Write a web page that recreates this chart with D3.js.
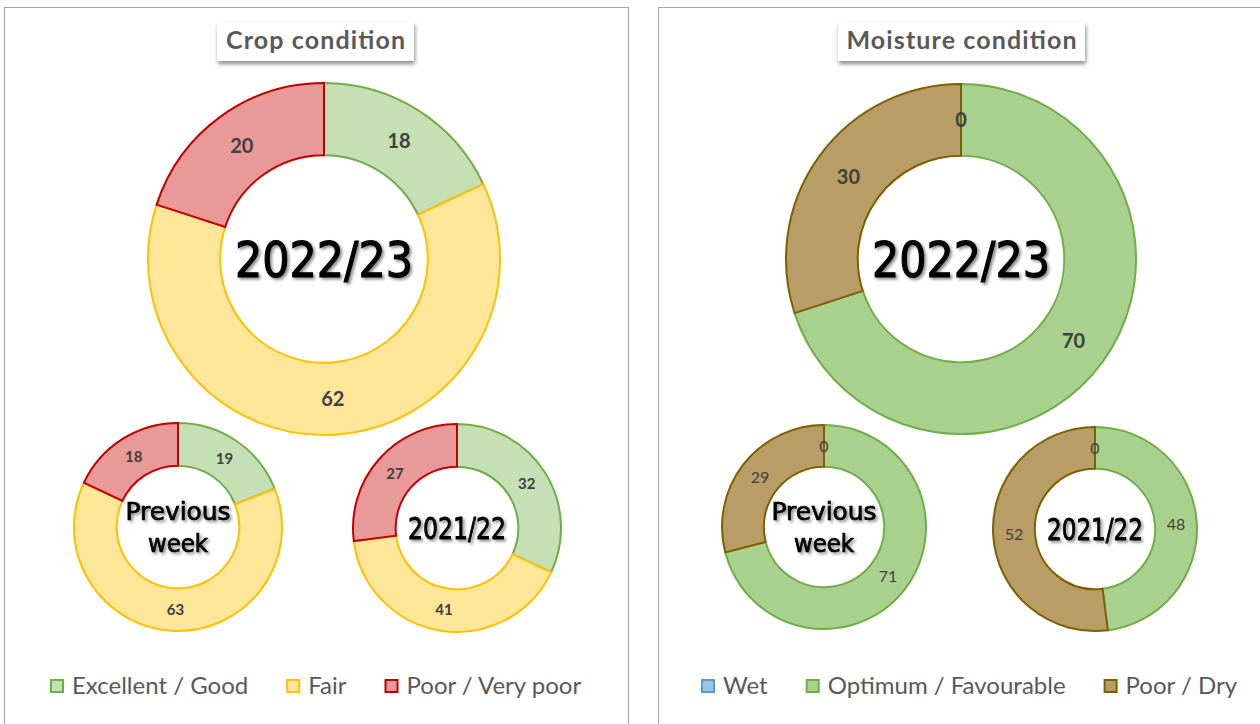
<!DOCTYPE html>
<html>
<head>
<meta charset="utf-8">
<script src="https://cdn.jsdelivr.net/npm/d3@7"></script>
<style>
  html, body { margin: 0; padding: 0; background: #ffffff; }
  svg { display: block; }
</style>
</head>
<body>
<svg id="chart" width="1260" height="724"></svg>
<script>
// ---------------- data ----------------
const cropTitle = "Crop condition";
const moistTitle = "Moisture condition";
const cropCategories = ["Excellent / Good", "Fair", "Poor / Very poor"];
const cropCurrent = [18, 62, 20];
const cropPrevWeek = [19, 63, 18];
const cropLastYear = [32, 41, 27];
const moistCategories = ["Wet", "Optimum / Favourable", "Poor / Dry"];
const moistCurrent = [0, 70, 30];
const moistPrevWeek = [0, 71, 29];
const moistLastYear = [0, 48, 52];
const seasonLabels = ["2022/23", ["Previous", "week"], "2021/22"];

// ---------------- styles ----------------
const cropFill = ["#C5E0B4", "#FFE699", "#EA9999"];
const cropStroke = ["#70AD47", "#FFC000", "#C00000"];
const moistFill = ["#9DC3E6", "#A9D18E", "#B89D66"];
const moistStroke = ["#5B9BD5", "#70AD47", "#7F6000"];

const svg = d3.select("#chart");
const defs = svg.append("defs");
const ds = defs.append("filter").attr("id", "txtShadow")
  .attr("x", "-20%").attr("y", "-20%").attr("width", "140%").attr("height", "150%");
ds.append("feDropShadow").attr("dx", 2).attr("dy", 2).attr("stdDeviation", 1.4)
  .attr("flood-color", "#000").attr("flood-opacity", 0.45);
const bs = defs.append("filter").attr("id", "boxShadow")
  .attr("x", "-20%").attr("y", "-30%").attr("width", "140%").attr("height", "180%");
bs.append("feDropShadow").attr("dx", 1).attr("dy", 3).attr("stdDeviation", 2.2)
  .attr("flood-color", "#000").attr("flood-opacity", 0.45);

const panels = [
  { x0: 4.5, x1: 628.5, title: cropTitle, titleBox: [217, 414], titleLen: 179, cats: cropCategories,
    fill: cropFill, stroke: cropStroke, legendX: 50,
    donuts: [
      { values: cropCurrent, cx: 324, cy: 259, r: 176, label: seasonLabels[0], fs: 20, bold: true, cfs: 50, sw: 1.1, tl: [178] },
      { values: cropPrevWeek, cx: 178, cy: 527, r: 104, label: seasonLabels[1], fs: 15, bold: true, cfs: 25, sw: 0.7, tl: [105, 60] },
      { values: cropLastYear, cx: 457, cy: 528, r: 104, label: seasonLabels[2], fs: 15, bold: true, cfs: 31, sw: 0.8, tl: [98] }
    ] },
  { x0: 658.5, x1: 1300, title: moistTitle, titleBox: [838, 1085], titleLen: 230, cats: moistCategories,
    fill: moistFill, stroke: moistStroke, legendX: 701,
    donuts: [
      { values: moistCurrent, cx: 961, cy: 259, r: 175, label: seasonLabels[0], fs: 20, bold: true, cfs: 50, sw: 1.1, tl: [178] },
      { values: moistPrevWeek, cx: 824, cy: 527, r: 102, label: seasonLabels[1], fs: 16, bold: false, cfs: 25, sw: 0.7, tl: [105, 60] },
      { values: moistLastYear, cx: 1095, cy: 529, r: 102, label: seasonLabels[2], fs: 16, bold: false, cfs: 31, sw: 0.8, tl: [96] }
    ] }
];

const pie = d3.pie().sort(null).value(d => d);

panels.forEach(p => {
  const g = svg.append("g");
  // panel frame
  g.append("rect").attr("x", p.x0).attr("y", 7.5)
    .attr("width", p.x1 - p.x0).attr("height", 760)
    .attr("fill", "#fff").attr("stroke", "#A6A6A6").attr("stroke-width", 1);

  // title box
  const tb = g.append("g");
  tb.append("rect").attr("x", p.titleBox[0]).attr("y", 22)
    .attr("width", p.titleBox[1] - p.titleBox[0]).attr("height", 39)
    .attr("fill", "#fff").attr("filter", "url(#boxShadow)");
  tb.append("text").attr("x", (p.titleBox[0] + p.titleBox[1]) / 2).attr("y", 40)
    .attr("dy", "0.35em").attr("text-anchor", "middle")
    .attr("font-family", "Lato, 'Liberation Sans', sans-serif").attr("font-weight", "bold")
    .attr("font-size", 25).attr("fill", "#595959")
    .attr("textLength", p.titleLen).attr("lengthAdjust", "spacing")
    .text(p.title);

  // donuts
  p.donuts.forEach(d => {
    const inner = d.r * 0.59;
    const arc = d3.arc().innerRadius(inner).outerRadius(d.r);
    const labelArc = d3.arc().innerRadius((inner + d.r) / 2).outerRadius((inner + d.r) / 2);
    const dg = g.append("g").attr("transform", `translate(${d.cx},${d.cy})`);
    const arcs = pie(d.values);
    dg.selectAll("path").data(arcs).join("path")
      .attr("d", arc)
      .attr("fill", (a, i) => p.fill[i])
      .attr("stroke", (a, i) => p.stroke[i])
      .attr("stroke-width", 2)
      .attr("stroke-linejoin", "miter");
    dg.selectAll("text.val").data(arcs).join("text").attr("class", "val")
      .attr("transform", a => `translate(${labelArc.centroid(a)})`)
      .attr("dy", "0.35em").attr("text-anchor", "middle")
      .attr("font-family", "Lato, 'Liberation Sans', sans-serif")
      .attr("font-weight", d.bold ? "bold" : "normal")
      .attr("font-size", d.fs).attr("fill", "#404040")
      .text(a => a.data);
    // centre label
    const lines = Array.isArray(d.label) ? d.label : [d.label];
    lines.forEach((ln, k) => {
      dg.append("text")
        .attr("x", 0)
        .attr("y", (k - (lines.length - 1) / 2) * d.cfs * 1.28)
        .attr("dy", "0.36em").attr("text-anchor", "middle")
        .attr("font-family", "'DejaVu Sans Condensed', 'DejaVu Sans', sans-serif")
        .attr("font-size", d.cfs).attr("fill", "#000")
        .attr("stroke", "#000").attr("stroke-width", d.sw)
        .attr("filter", "url(#txtShadow)")
        .attr("textLength", d.tl[k]).attr("lengthAdjust", "spacingAndGlyphs")
        .text(ln);
    });
  });

  // legend
  const lg = g.append("g").attr("transform", `translate(0,686)`);
  let x = p.legendX;
  p.cats.forEach((c, i) => {
    lg.append("rect").attr("x", x + 1).attr("y", -6).attr("width", 12).attr("height", 12)
      .attr("fill", p.fill[i]).attr("stroke", p.stroke[i]).attr("stroke-width", 2);
    const t = lg.append("text").attr("x", x + 22).attr("y", 0).attr("dy", "0.35em")
      .attr("font-family", "Lato, 'Liberation Sans', sans-serif")
      .attr("font-size", 24).attr("fill", "#595959").text(c);
    x += 22 + t.node().getComputedTextLength() + 38;
  });
});
</script>
</body>
</html>
